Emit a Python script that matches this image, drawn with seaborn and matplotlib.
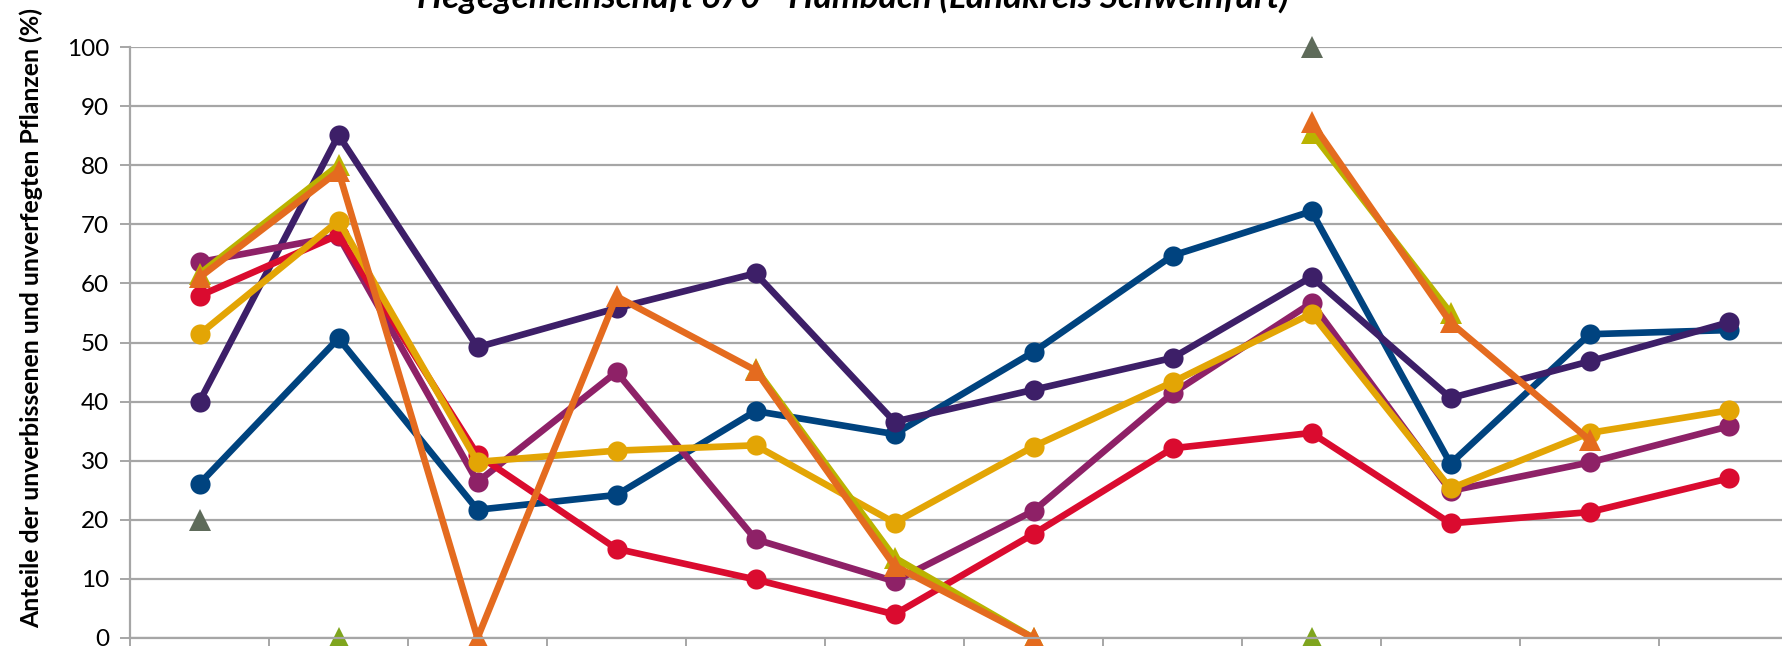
import numpy as np
import pandas as pd
import matplotlib
matplotlib.use("Agg")
import matplotlib.pyplot as plt
import seaborn as sns

nan = np.nan
categories = [str(i) for i in range(1, 13)]

s_blue    = [26.1, 50.7, 21.7, 24.2, 38.4, 34.5, 48.4, 64.7, 72.2, 29.5, 51.4, 52.1]
s_purple  = [40.0, 85.1, 49.2, 55.8, 61.7, 36.6, 42.0, 47.4, 61.1, 40.6, 46.8, 53.4]
s_magenta = [63.6, 68.0, 26.4, 45.0, 16.7, 9.6, 21.5, 41.4, 56.7, 24.9, 29.7, 35.8]
s_red     = [57.9, 68.2, 31.0, 15.1, 9.9, 4.0, 17.6, 32.1, 34.7, 19.4, 21.3, 27.0]
s_yellow  = [51.4, 70.6, 29.8, 31.7, 32.6, 19.5, 32.4, 43.3, 54.9, 25.3, 34.7, 38.5]
s_olive   = [61.6, 80.0, nan, nan, 45.6, 13.6, 0.0, nan, 85.5, 55.0, nan, nan]
s_orange  = [61.0, 79.0, 0.0, 57.8, 45.3, 12.2, 0.0, nan, 87.3, 53.4, 33.5, nan]
s_green   = [nan, 0.0, nan, nan, nan, nan, nan, nan, 0.0, nan, nan, nan]
s_gray    = [20.0, nan, nan, nan, nan, nan, nan, nan, 100.0, nan, nan, nan]

title = "Hegegemeinschaft 670 - Hambach (Landkreis Schweinfurt)"
ylabel = "Anteile der unverbissenen und unverfegten Pflanzen (%)"
yticks = [0, 10, 20, 30, 40, 50, 60, 70, 80, 90, 100]

series = [
    ("blue", s_blue, "#00437F", "o"),
    ("purple", s_purple, "#3D1F68", "o"),
    ("magenta", s_magenta, "#8E2167", "o"),
    ("red", s_red, "#DA0B2F", "o"),
    ("yellow", s_yellow, "#E3A505", "o"),
    ("olive", s_olive, "#BAB300", "^"),
    ("orange", s_orange, "#E46B1F", "^"),
    ("green", s_green, "#7FA51E", "^"),
    ("gray", s_gray, "#5E6B5A", "^"),
]

sns.set_theme(style="white")
plt.rcParams["font.family"] = ["Lato", "DejaVu Sans"]

W, H = 1782, 646
fig = plt.figure(figsize=(W / 100, H / 100), dpi=100)
left_px, y0_px, y100_px, cat_w = 130, 638, 47, 139
ax = fig.add_axes([left_px / W, (H - y0_px) / H, 12 * cat_w / W, (y0_px - y100_px) / H])

grid_c = "#A6A6A6"
for name, vals, col, mk in series:
    rows = []
    seg = 0
    prev_nan = True
    for i, v in enumerate(vals):
        if np.isnan(v):
            prev_nan = True
            continue
        if prev_nan:
            seg += 1
        prev_nan = False
        rows.append({"x": i, "value": v, "seg": seg})
    df = pd.DataFrame(rows)
    ms = 14.5 if mk == "o" else 15.5
    sns.lineplot(data=df, x="x", y="value", units="seg", estimator=None,
                 color=col, marker=mk, markersize=ms, markeredgewidth=0,
                 linewidth=4.8, sort=False, legend=False, ax=ax)

for ln in ax.lines:
    ln.set_clip_on(False)

ax.set_xlim(-0.5, 11.5)
ax.set_ylim(0, 100)
ax.set_yticks(yticks)
ax.set_yticklabels([str(t) for t in yticks], fontsize=17.5, color="black")
ax.set_xticks(np.arange(-0.5, 12, 1.0))
ax.set_xticklabels([])
ax.set_xlabel("")
ax.set_ylabel("")
ax.yaxis.grid(True, color=grid_c, linewidth=1.6)
ax.xaxis.grid(False)
ax.tick_params(axis="y", length=7, width=1.4, color=grid_c, pad=8, left=True)
ax.tick_params(axis="x", length=7, width=1.4, color=grid_c, bottom=True)
for s in ["top", "right"]:
    ax.spines[s].set_visible(False)
for s in ["left", "bottom"]:
    ax.spines[s].set_color(grid_c)
    ax.spines[s].set_linewidth(1.6)
ax.set_axisbelow(True)

t = fig.text(853 / W, 1 - 8 / H, title, ha="center", va="baseline",
             fontsize=22, fontweight="bold", fontstyle="italic", color="black")
yl = fig.text(31 / W, 1 - 318 / H, ylabel, rotation=90, ha="center", va="center",
              fontsize=16, fontweight="bold", color="black")

fig.canvas.draw()
r = fig.canvas.get_renderer()
bb = t.get_window_extent(r)
t.set_fontsize(t.get_fontsize() * 870 / bb.width)
bb = yl.get_window_extent(r)
yl.set_fontsize(yl.get_fontsize() * 624 / bb.height)

fig.savefig("out.png", dpi=100)
